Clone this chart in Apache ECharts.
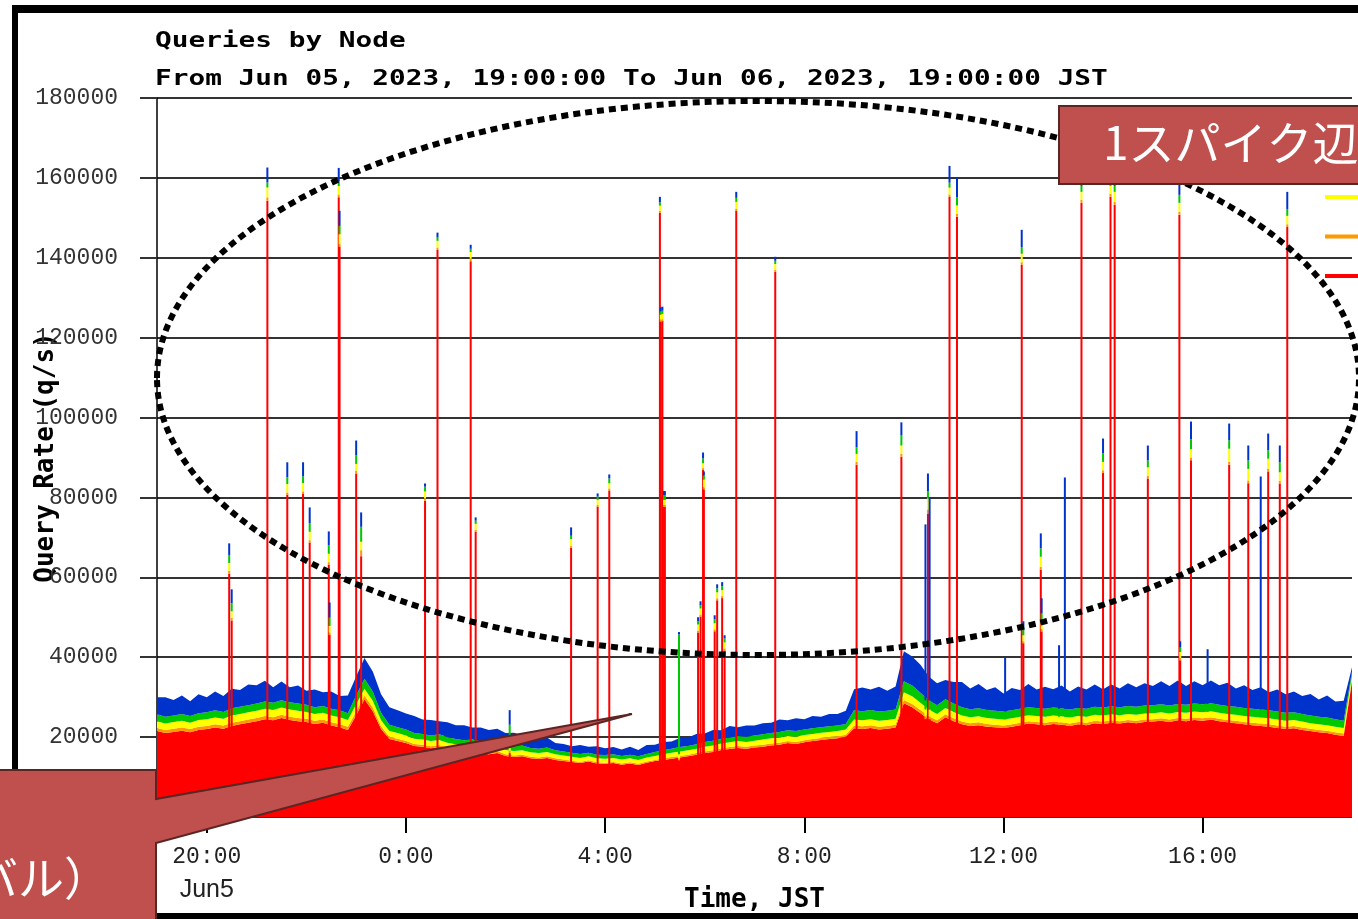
<!DOCTYPE html>
<html><head><meta charset="utf-8">
<script src="https://cdn.jsdelivr.net/npm/echarts@6/dist/echarts.min.js"></script>
<style>html,body{margin:0;padding:0;background:#fff}#c{width:1358px;height:919px}</style>
</head><body><div id="c"></div>
<script>
// ---- data ----
const titleText = 'Queries by Node';
const subtitleText = 'From Jun 05, 2023, 19:00:00 To Jun 06, 2023, 19:00:00 JST';
const seriesNames = ['Node A', 'Node B', 'Node C', 'Node D', 'Node E']; // red, orange, yellow, green, blue (bottom -> top)
const seriesColors = ['#ff0000', '#ff9900', '#ffff00', '#00c800', '#0033cc'];
const xTickHours = [20, 24, 28, 32, 36, 40];
const xDateLabels = { 20: 'Jun5' };
const baseStartHour = 19;
const baseStepMin = 10;

const baseRed = [21500,21000,21300,21600,21200,21800, 22000,22400,22100,22800,23200,23600,
  24000,24500,24200,24800,24300,24000, 23800,23300,23600,22900,22500,21800,
  25500,29500,26500,22000,19500,19000, 18500,17800,17600,17200,17500,16900,
  16500,16200,16400,15900,15700,16000, 15300,15000,15200,14700,14500,14800,
  14300,14000,13800,13500,13900,13400, 13300,13500,13100,13400,13000,13600,
  14000,14300,14600,14900,15200,15600, 16000,16300,16800,17000,17300,17100,
  17400,17600,17900,18100,18500,18300, 18700,19000,19300,19500,19700,20100,
  22200,22000,22300,21900,22100,22400, 28500,27500,26000,24500,23500,25000,
  24000,23200,22800,23000,22600,22500, 22300,22600,23000,23400,23200,23000,
  23300,23100,22800,23200,23000,23500, 23300,23600,23400,23700,23500,23800,
  23900,24100,23800,24200,24000,24300, 24100,24400,24000,23700,23500,23200,
  23000,22800,22600,22300,22000,22200, 21800,21500,21200,21000,20600,20300, 34000];
const baseOrange = [800,800,800,800,800,800, 800,800,800,800,800,800,
  800,800,800,800,800,800, 800,800,800,800,800,800,
  900,900,900,700,600,600, 600,500,500,500,500,500,
  500,500,500,500,500,500, 400,400,400,400,400,400,
  400,400,300,300,300,300, 300,300,300,300,300,300,
  300,400,400,400,400,400, 400,400,400,500,500,500,
  500,500,500,500,500,500, 500,500,500,500,500,500,
  700,700,700,700,700,700, 800,800,800,700,700,700,
  700,700,700,700,700,600, 600,600,600,600,600,600,
  600,600,600,600,600,600, 600,600,600,600,600,600,
  600,600,600,600,600,600, 600,600,600,600,600,600,
  600,600,600,600,600,600, 600,600,600,600,600,600, 600];
const baseYellow = [1700,1600,1700,1700,1600,1700, 1700,1700,1700,1800,1800,1800,
  1800,1800,1800,1800,1800,1800, 1700,1700,1700,1700,1700,1700,
  1800,1700,1700,1500,1400,1400, 1300,1300,1300,1300,1300,1200,
  1200,1200,1200,1200,1200,1200, 1100,1100,1100,1100,1100,1100,
  1000,1000,1000,1000,1000,1000, 1000,1000,1000,1000,1000,1000,
  1000,1000,1100,1100,1100,1100, 1200,1200,1200,1200,1200,1200,
  1200,1300,1300,1300,1300,1300, 1300,1300,1300,1300,1300,1300,
  1500,1500,1500,1500,1500,1500, 1900,1900,1800,1700,1600,1600,
  1600,1500,1500,1500,1500,1500, 1500,1500,1500,1500,1500,1500,
  1500,1500,1500,1500,1500,1500, 1500,1500,1500,1500,1500,1500,
  1500,1500,1500,1500,1500,1500, 1500,1500,1500,1500,1500,1500,
  1500,1500,1500,1500,1500,1500, 1500,1400,1400,1400,1400,1400, 1000];
const baseGreen = [1700,1700,1600,1700,1700,1700, 1700,1800,1700,1800,1800,1800,
  1800,1800,1800,1800,1800,1800, 1800,1700,1700,1700,1700,1700,
  2200,2500,2300,1900,1600,1500, 1500,1400,1400,1400,1400,1400,
  1300,1300,1300,1300,1300,1200, 1200,1200,1200,1100,1100,1100,
  1000,1000,1000,1000,900,900, 900,900,900,900,900,900,
  1000,1000,1000,1100,1100,1100, 1200,1200,1200,1200,1300,1300,
  1300,1300,1300,1400,1400,1400, 1400,1400,1400,1400,1400,1400,
  2300,2300,2300,2300,2300,2300, 2800,2700,2500,2300,2200,2200,
  2100,2100,2000,2000,2000,2000, 2000,2000,2000,2000,2000,2000,
  2000,2000,2000,2000,2000,2000, 2000,2000,2000,2000,2000,2000,
  2000,2000,2000,2000,2000,2000, 2000,2000,2000,2000,2000,2000,
  2000,2000,2000,2000,2000,1900, 1900,1900,1900,1900,1900,1800, 900];
const baseBlue = [4300,4900,3900,4600,3700,4700, 3800,4700,4000,4900,4200,5200,
  4600,5200,3900,4700,3800,4500, 3500,4400,3400,4300,3600,4400,
  4800,5200,5000,4600,4400,4200, 4000,4300,3600,3900,3300,3700,
  3500,3800,3000,3500,3100,3200, 3000,3400,2600,3100,2400,2500,
  1800,1900,1600,2200,1500,2100, 1700,1800,1600,2000,1600,2200,
  1800,2100,1800,2300,2100,2600, 2100,2700,2100,2900,2200,2800,
  2500,2800,2600,3100,2500,3200, 2600,3100,2600,3100,2900,3300,
  5300,5900,5100,6200,5000,5800, 7500,7300,7000,6000,5500,4800,
  5400,6300,5200,6100,5000,5900, 4500,5600,4700,5800,4600,5500,
  4600,5700,4500,5400,4800,5600, 4600,5500,4700,5700,4900,5600,
  4800,5800,4900,5900,4700,5600, 4800,5700,4900,5800,4600,5700,
  4700,5600,4500,5500,4600,5200, 4500,5400,4300,5500,4400,5000, 1000];

const spikeTimes = ['20:27','20:30','21:13','21:37','21:56','22:04','22:27','22:28','22:39','22:40',
  '23:00','23:06','0:23','0:38','1:18','1:24','2:05','3:19','3:51','4:05',
  '5:06','5:07','5:09','5:11','5:12','5:29','5:52','5:55','5:58','5:59',
  '6:12','6:15','6:21','6:24','6:38','7:25','9:03','9:57','10:26','10:29',
  '10:31','10:55','11:04','12:02','12:22','12:24','12:45','12:46','13:07','13:14',
  '13:34','14:00','14:09','14:14','14:54','15:32','15:33','15:46','16:06','16:32',
  '16:55','17:10','17:19','17:33','17:42'];
const spikeRed = [60900,49200,154300,80650,80900,68700,63200,45550,155150,142700,
  86000,65300,79200,141950,139150,71400,16000,67400,77600,81750,
  151250,124000,124150,77600,77600,14200,46200,50200,86850,82000,
  46500,54250,54800,41700,151700,136450,88200,90200,24500,76000,
  24500,155250,150300,22300,138200,43500,61950,46400,23000,23000,
  153800,86100,155300,153300,84750,150800,39200,89300,24200,88200,
  83550,22800,86500,83500,147700];
const spikeOrange = [700,600,800,600,600,600,600,600,700,700,
  700,1500,600,600,600,500,600,500,500,500,
  500,500,500,500,500,400,500,500,500,500,
  500,500,500,500,600,500,700,700,700,1000,
  700,600,700,600,700,500,700,600,600,600,
  700,700,700,700,700,700,600,700,600,700,
  700,600,700,700,700];
const spikeYellow = [2000,1700,2500,2100,2100,2100,2100,1700,2100,2500,
  1700,2100,1700,1700,1700,1500,3000,1700,1300,1300,
  1300,1300,1300,1300,1300,1100,1500,1500,1200,2000,
  1500,1500,1500,1500,1700,1500,2000,2100,1700,2800,
  1700,1700,2100,1500,2100,1500,2500,1500,1500,1500,
  2000,2100,2000,2500,2100,2250,1500,2100,1500,3300,
  2900,1500,2500,2100,2100];
const spikeGreen = [2000,2000,1250,1700,1700,2100,2100,2100,1250,2100,
  2100,3750,1200,800,800,800,3500,800,800,1200,
  800,800,800,1200,1200,30000,800,800,1200,1000,
  1000,1000,1000,1000,1000,800,1700,2500,2300,1700,
  2300,1250,2100,2000,1700,1500,2100,2500,2000,2000,
  1500,2100,1500,1500,1700,2000,1200,2500,2000,2100,
  2100,2000,2100,2500,1700];
const spikeBlue = [2900,3500,3750,3750,3500,4000,3500,3750,3300,3750,
  3750,3600,800,1250,1000,800,3650,2100,800,1000,
  1400,1000,1000,1000,1000,600,1000,1000,1500,1000,
  1000,1000,1000,800,1500,1000,4000,3300,44050,4500,
  50800,4200,4800,13600,4300,2000,3750,3750,15900,57900,
  3000,3750,3500,1000,3750,3750,1500,4400,13700,4200,
  3750,58350,4200,4200,4300];

// ---- build ----
// x = hours since Jun 05 00:00 (JST); points are stored as [value, hour] and mapped with encode
const toHour = s => { const p = s.split(':').map(Number); let v = p[0] + p[1] / 60; if (v < baseStartHour) v += 24; return v; };
const baseX = baseRed.map((_, i) => baseStartHour + i * baseStepMin / 60);
const spikeX = spikeTimes.map(toHour);
const baseSets = [baseRed, baseOrange, baseYellow, baseGreen, baseBlue];
const spikeSets = [spikeRed, spikeOrange, spikeYellow, spikeGreen, spikeBlue];

const series = [];
seriesNames.forEach((name, k) => {
  series.push({
    type: 'line', name, stack: 'base', symbol: 'none', showSymbol: false, silent: true,
    encode: { x: 1, y: 0 },
    data: baseSets[k].map((v, i) => [v, baseX[i]]),
    lineStyle: { width: 0 }, itemStyle: { color: seriesColors[k] },
    areaStyle: { color: seriesColors[k], opacity: 1 }, z: 2
  });
});
seriesNames.forEach((name, k) => {
  series.push({
    type: 'bar', name, stack: 'spike', barWidth: 2, silent: true,
    encode: { x: 1, y: 0 },
    data: spikeSets[k].map((v, i) => [v, spikeX[i]]),
    itemStyle: { color: seriesColors[k] }, z: 3
  });
});

const labelFor = v => {
  const s = (v % 24) + ':00';
  return xDateLabels[v] ? '{t|' + s + '}\n{d|' + xDateLabels[v] + '}' : '{t|' + s + '}';
};

const monoBold = 'DejaVu Sans Mono';
const chart = echarts.init(document.getElementById('c'));
chart.setOption({
  animation: false,
  backgroundColor: '#ffffff',
  grid: { left: 157, right: 6, top: 98, bottom: 102, outerBoundsMode: 'none', containLabel: false },
  legend: {
    data: seriesNames.slice().reverse(), orient: 'vertical', left: 1320, top: 111,
    icon: 'rect', itemWidth: 40, itemHeight: 4, itemGap: 35.5, selectedMode: false,
    formatter: () => '', textStyle: { fontSize: 1, lineHeight: 1 }
  },
  xAxis: {
    type: 'value', min: 19, max: 43,
    axisLine: { show: false }, splitLine: { show: false },
    axisTick: { show: true, customValues: xTickHours, length: 16, lineStyle: { color: '#000', width: 2 } },
    axisLabel: {
      customValues: xTickHours, margin: 25, formatter: labelFor,
      rich: {
        t: { fontFamily: 'Liberation Mono', fontSize: 23, color: '#222', lineHeight: 30 },
        d: { fontFamily: 'Liberation Sans', fontSize: 25, color: '#222', lineHeight: 36 }
      }
    },
    name: 'Time, JST', nameLocation: 'middle', nameGap: 70, nameMoveOverlap: false,
    nameTextStyle: { fontFamily: monoBold, fontWeight: 'bold', fontSize: 26, color: '#000' }
  },
  yAxis: {
    type: 'value', min: 0, max: 180000, interval: 20000,
    axisLine: { show: true, lineStyle: { color: '#000', width: 1.5 } },
    axisTick: { show: true, length: 17, lineStyle: { color: '#333', width: 2 } },
    splitLine: { show: true, lineStyle: { color: '#333', width: 2 } },
    axisLabel: { margin: 39, fontFamily: 'Liberation Mono', fontSize: 23, color: '#333', formatter: v => String(v) },
    name: 'Query Rate (q/s)', nameLocation: 'middle', nameRotate: 90, nameGap: 98, nameMoveOverlap: false,
    nameTextStyle: { fontFamily: monoBold, fontWeight: 'bold', fontSize: 26, color: '#000' }
  },
  graphic: [
    { type: 'rect', silent: true, z: 50, shape: { x: 12, y: 5, width: 1346, height: 8 }, style: { fill: '#000' } },
    { type: 'rect', silent: true, z: 50, shape: { x: 12, y: 5, width: 6, height: 800 }, style: { fill: '#000' } },
    { type: 'rect', silent: true, z: 50, shape: { x: 12, y: 913, width: 1346, height: 6 }, style: { fill: '#000' } },
    { type: 'text', silent: true, z: 60, x: 155, y: 41, scaleX: 1.262,
      style: { text: titleText, fontFamily: monoBold, fontWeight: 'bold', fontSize: 22, fill: '#000', align: 'left', verticalAlign: 'middle', textAlign: 'left', textVerticalAlign: 'middle' } },
    { type: 'text', silent: true, z: 60, x: 155, y: 79, scaleX: 1.262,
      style: { text: subtitleText, fontFamily: monoBold, fontWeight: 'bold', fontSize: 22, fill: '#000', align: 'left', verticalAlign: 'middle', textAlign: 'left', textVerticalAlign: 'middle' } },
    { type: 'ellipse', silent: true, z: 90, shape: { cx: 758, cy: 378, rx: 601, ry: 277 },
      style: { fill: 'none', stroke: '#000', lineWidth: 6, lineDash: [7, 5] } },
    { type: 'rect', silent: true, z: 100, shape: { x: 1059, y: 106, width: 330, height: 78 },
      style: { fill: '#c0504d', stroke: '#5b2523', lineWidth: 2 } },
    { type: 'text', silent: true, z: 101, x: 1103, y: 143,
      style: { text: '1スパイク辺', fontFamily: 'Noto Sans CJK JP', fontSize: 46, fill: '#fff', align: 'left', verticalAlign: 'middle', textAlign: 'left', textVerticalAlign: 'middle' } },
    { type: 'polygon', silent: true, z: 100,
      shape: { points: [[-5, 770], [156, 770], [156, 799], [632, 714], [156, 843], [156, 935], [-5, 935]] },
      style: { fill: '#c0504d', stroke: '#5b2523', lineWidth: 2 } },
    { type: 'text', silent: true, z: 101, x: 110, y: 878,
      style: { text: 'バル）', fontFamily: 'Noto Sans CJK JP', fontSize: 46, fill: '#fff', align: 'right', verticalAlign: 'middle', textAlign: 'right', textVerticalAlign: 'middle' } }
  ],
  series
});
</script></body></html>
